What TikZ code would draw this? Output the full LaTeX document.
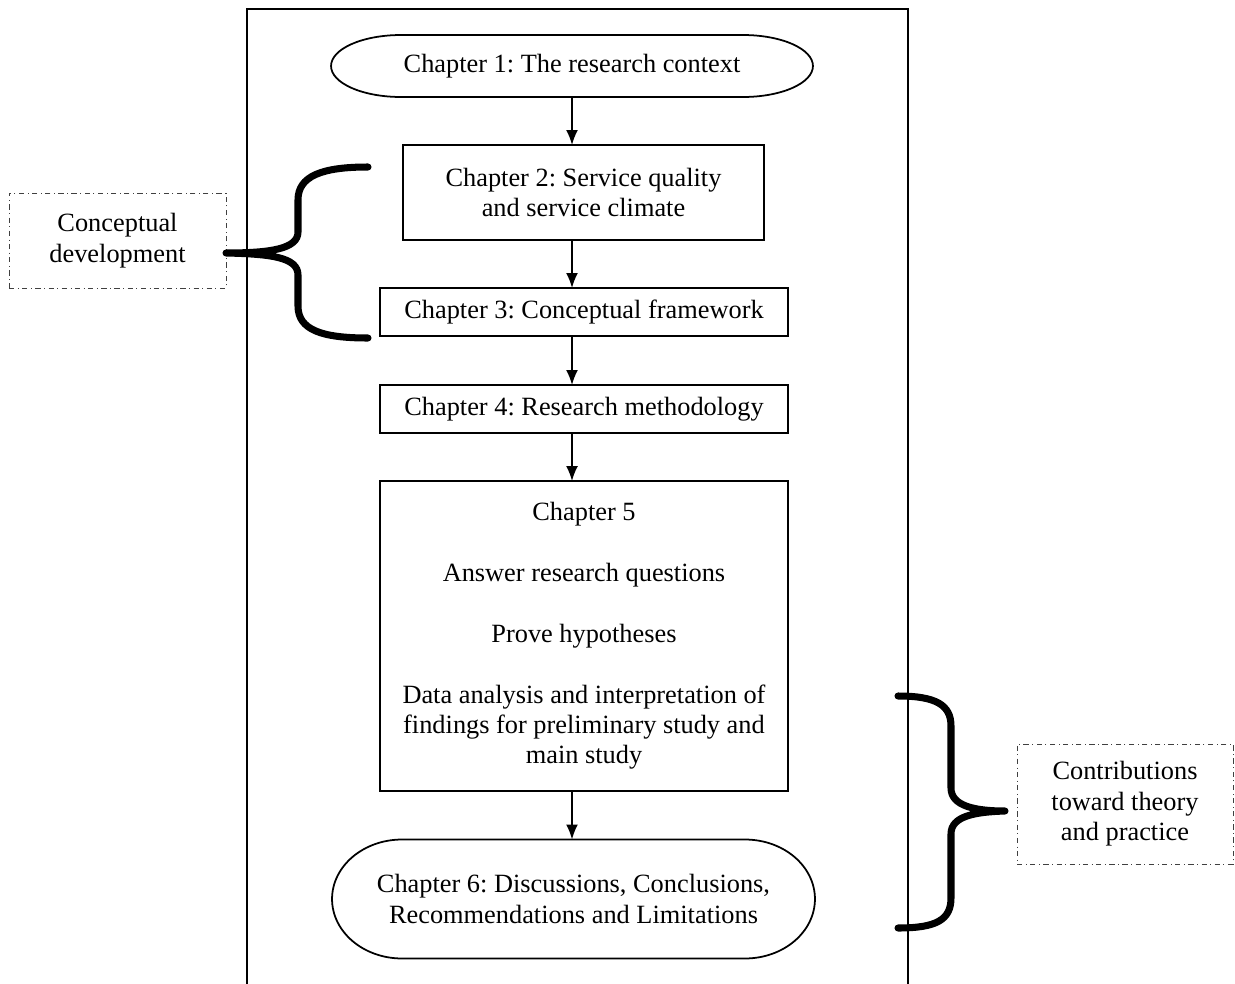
\documentclass[tikz,border=0pt]{standalone}
\usepackage{fontspec}
\setmainfont{Liberation Serif}
\usepackage{tikz}
\usetikzlibrary{arrows.meta,positioning,calc}
\frenchspacing
\tikzset{>={Latex[length=8.5pt,width=6.8pt]}}
\tikzset{
    chapbox/.style={draw, line width=1pt, align=center, inner sep=0pt, outer sep=0pt},
    chapterm/.style={align=center, inner sep=0pt, outer sep=0pt},
    notebox/.style={draw=black!75, line width=0.5pt, dash dot, align=center, inner sep=0pt},
    bracepath/.style={line width=4pt, line cap=round, line join=round},
    flow/.style={->, line width=1pt}
}

\begin{document}
\begin{tikzpicture}[x=0.02cm, y=-0.02cm, font=\fontsize{15pt}{17.3pt}\selectfont]
    \useasboundingbox (0,0) rectangle (1235,984);

    % frame round the chapters (open at the bottom)
    \draw[line width=1pt] (247,984) -- (247,9) -- (908,9) -- (908,984);

    % chapters
    \node[chapterm, minimum width=9.64cm, minimum height=1.24cm] (ch1) at (572,66) {Chapter 1: The research context};
    \node[chapbox, minimum width=7.22cm, minimum height=1.9cm] (ch2) at (583.5,192.5) {Chapter 2: Service quality\\and service climate};
    \node[chapbox, minimum width=8.16cm, minimum height=0.96cm] (ch3) at (584,312) {Chapter 3: Conceptual framework};
    \node[chapbox, minimum width=8.16cm, minimum height=0.96cm] (ch4) at (584,409) {Chapter 4: Research methodology};
    \node[chapbox, minimum width=8.16cm, minimum height=6.2cm] (ch5) at (584,636) {Chapter 5\\[17.3pt]Answer research questions\\[17.3pt]Prove hypotheses\\[17.3pt]Data analysis and interpretation of\\findings for preliminary study and\\main study};
    \node[chapterm, minimum width=9.66cm, minimum height=2.38cm] (ch6) at (573.5,899) {Chapter 6: Discussions, Conclusions,\\Recommendations and Limitations};

    % oval outlines for first and last chapter
    \draw[line width=1pt] ([xshift=1.4cm]ch1.north west) -- ([xshift=-1.4cm]ch1.north east)
        arc[start angle=90, end angle=-90, x radius=1.4cm, y radius=0.62cm]
        -- ([xshift=1.4cm]ch1.south west)
        arc[start angle=270, end angle=90, x radius=1.4cm, y radius=0.62cm] -- cycle;
    \draw[line width=1pt] ([xshift=1.4cm]ch6.north west) -- ([xshift=-1.4cm]ch6.north east)
        arc[start angle=90, end angle=-90, x radius=1.4cm, y radius=1.19cm]
        -- ([xshift=1.4cm]ch6.south west)
        arc[start angle=270, end angle=90, x radius=1.4cm, y radius=1.19cm] -- cycle;

    % arrows between chapters
    \draw[flow] (ch1.south) -- (ch1.south |- ch2.north);
    \draw[flow] (ch1.south |- ch2.south) -- (ch1.south |- ch3.north);
    \draw[flow] (ch1.south |- ch3.south) -- (ch1.south |- ch4.north);
    \draw[flow] (ch1.south |- ch4.south) -- (ch1.south |- ch5.north);
    \draw[flow] (ch1.south |- ch5.south) -- (ch1.south |- ch6.north);

    % side notes
    \node[notebox, minimum width=4.34cm, minimum height=1.9cm] (concept) at (117.5,240.5) {Conceptual\\development};
    \node[notebox, minimum width=4.32cm, minimum height=2.4cm] (contrib) at (1125,804) {Contributions\\toward theory\\and practice};

    % left brace
    \coordinate (lbtop) at (368,167);
    \coordinate (lbbot) at (368,338);
    \coordinate (lbtip) at (226,253);
    \draw[bracepath] (lbtop) .. controls (322,167) and (298,176) .. (298,200) -- (298,232)
        .. controls (298,249) and (270,253) .. (lbtip)
        .. controls (270,254) and (298,257) .. (298,275) -- (298,306)
        .. controls (298,330) and (322,338) .. (lbbot);

    % right brace
    \coordinate (rbtop) at (898,696);
    \coordinate (rbbot) at (898,928);
    \coordinate (rbtip) at (1005,811);
    \draw[bracepath] (rbtop) .. controls (936,696) and (951,705) .. (951,726) -- (951,788)
        .. controls (951,806) and (975,811) .. (rbtip)
        .. controls (975,812) and (951,816) .. (951,834) -- (951,898)
        .. controls (951,920) and (936,928) .. (rbbot);
\end{tikzpicture}
\end{document}
